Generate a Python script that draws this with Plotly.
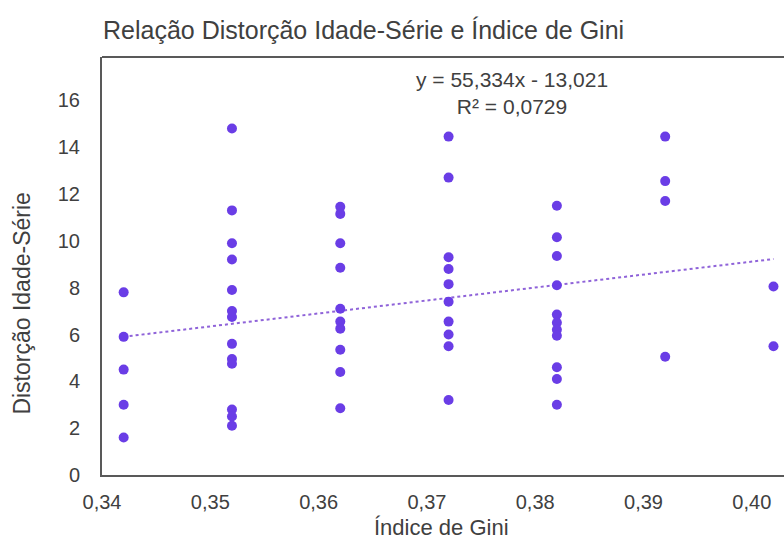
import plotly.graph_objects as go

# Índice de Gini (x) e Distorção Idade-Série (y) por observação
gini = (
    [0.342] * 5
    + [0.352] * 13
    + [0.362] * 10
    + [0.372] * 10
    + [0.382] * 11
    + [0.392] * 4
    + [0.402] * 2
)
distorcao = [
    # 0,342
    7.8, 5.9, 4.5, 3.0, 1.6,
    # 0,352
    14.8, 11.3, 9.9, 9.2, 7.9, 7.0, 6.75, 5.6, 4.95, 4.75, 2.8, 2.5, 2.1,
    # 0,362
    11.45, 11.15, 9.9, 8.85, 7.1, 6.55, 6.25, 5.35, 4.4, 2.85,
    # 0,372
    14.45, 12.7, 9.3, 8.8, 8.15, 7.4, 6.55, 6.0, 5.5, 3.2,
    # 0,382
    11.5, 10.15, 9.35, 8.1, 6.85, 6.5, 6.2, 5.95, 4.6, 4.1, 3.0,
    # 0,392
    14.45, 12.55, 11.7, 5.05,
    # 0,402
    8.05, 5.5,
]

# Linha de tendência linear: y = 55,334x - 13,021
slope, intercept = 55.334, -13.021
trend_x = [min(gini), max(gini)]
trend_y = [slope * v + intercept for v in trend_x]

x_ticks = [0.34, 0.35, 0.36, 0.37, 0.38, 0.39, 0.40]
x_tick_text = ["0,34", "0,35", "0,36", "0,37", "0,38", "0,39", "0,40"]
y_ticks = [0, 2, 4, 6, 8, 10, 12, 14, 16]

FONT = "Liberation Sans, Arial, sans-serif"
TEXT = "#404040"
BORDER = "#595959"

fig = go.Figure()
fig.add_trace(go.Scatter(
    x=trend_x, y=trend_y, mode="lines",
    line=dict(color="#8f63d9", width=2, dash="dot"),
    hoverinfo="skip", showlegend=False,
))
fig.add_trace(go.Scatter(
    x=gini, y=distorcao, mode="markers",
    marker=dict(color="#6a3de6", size=10, line=dict(width=0)),
    showlegend=False,
))

fig.update_layout(
    width=784, height=542,
    margin=dict(l=102, r=0, t=57, b=67),
    paper_bgcolor="white", plot_bgcolor="white",
    font=dict(family=FONT, color=TEXT, size=20),
    xaxis=dict(
        range=[0.34, 0.40297], tickvals=x_ticks, ticktext=x_tick_text,
        showgrid=False, zeroline=False,
        showline=True, linecolor=BORDER, linewidth=2,
        ticks="outside", ticklen=8, tickcolor="rgba(0,0,0,0)",
        tickfont=dict(size=20),
    ),
    yaxis=dict(
        range=[0, 17.85], tickvals=y_ticks,
        showgrid=False, zeroline=False,
        showline=True, linecolor=BORDER, linewidth=2,
        ticks="outside", ticklen=16, tickcolor="rgba(0,0,0,0)",
        tickfont=dict(size=20),
    ),
    shapes=[dict(
        type="line", xref="paper", yref="paper", x0=0, x1=1, y0=1, y1=1,
        line=dict(color=BORDER, width=2),
    )],
    annotations=[
        dict(text="Relação Distorção Idade-Série e Índice de Gini",
             xref="paper", yref="paper", x=-0.002, y=1.0, yshift=27,
             xanchor="left", yanchor="middle", showarrow=False,
             font=dict(size=25, color=TEXT)),
        dict(text="y = 55,334x - 13,021<br>R² = 0,0729",
             x=0.3779, y=16.3, xanchor="center", yanchor="middle",
             showarrow=False, align="center",
             font=dict(size=21, color=TEXT)),
        dict(text="Índice de Gini", xref="paper", yref="paper",
             x=0.498, y=0, yshift=-52, xanchor="center", yanchor="middle",
             showarrow=False, font=dict(size=22, color=TEXT)),
        dict(text="Distorção Idade-Série", xref="paper", yref="paper",
             x=0, xshift=-80, y=0.41, textangle=-90,
             xanchor="center", yanchor="middle",
             showarrow=False, font=dict(size=23, color=TEXT)),
    ],
)

fig.write_html("out.html")
